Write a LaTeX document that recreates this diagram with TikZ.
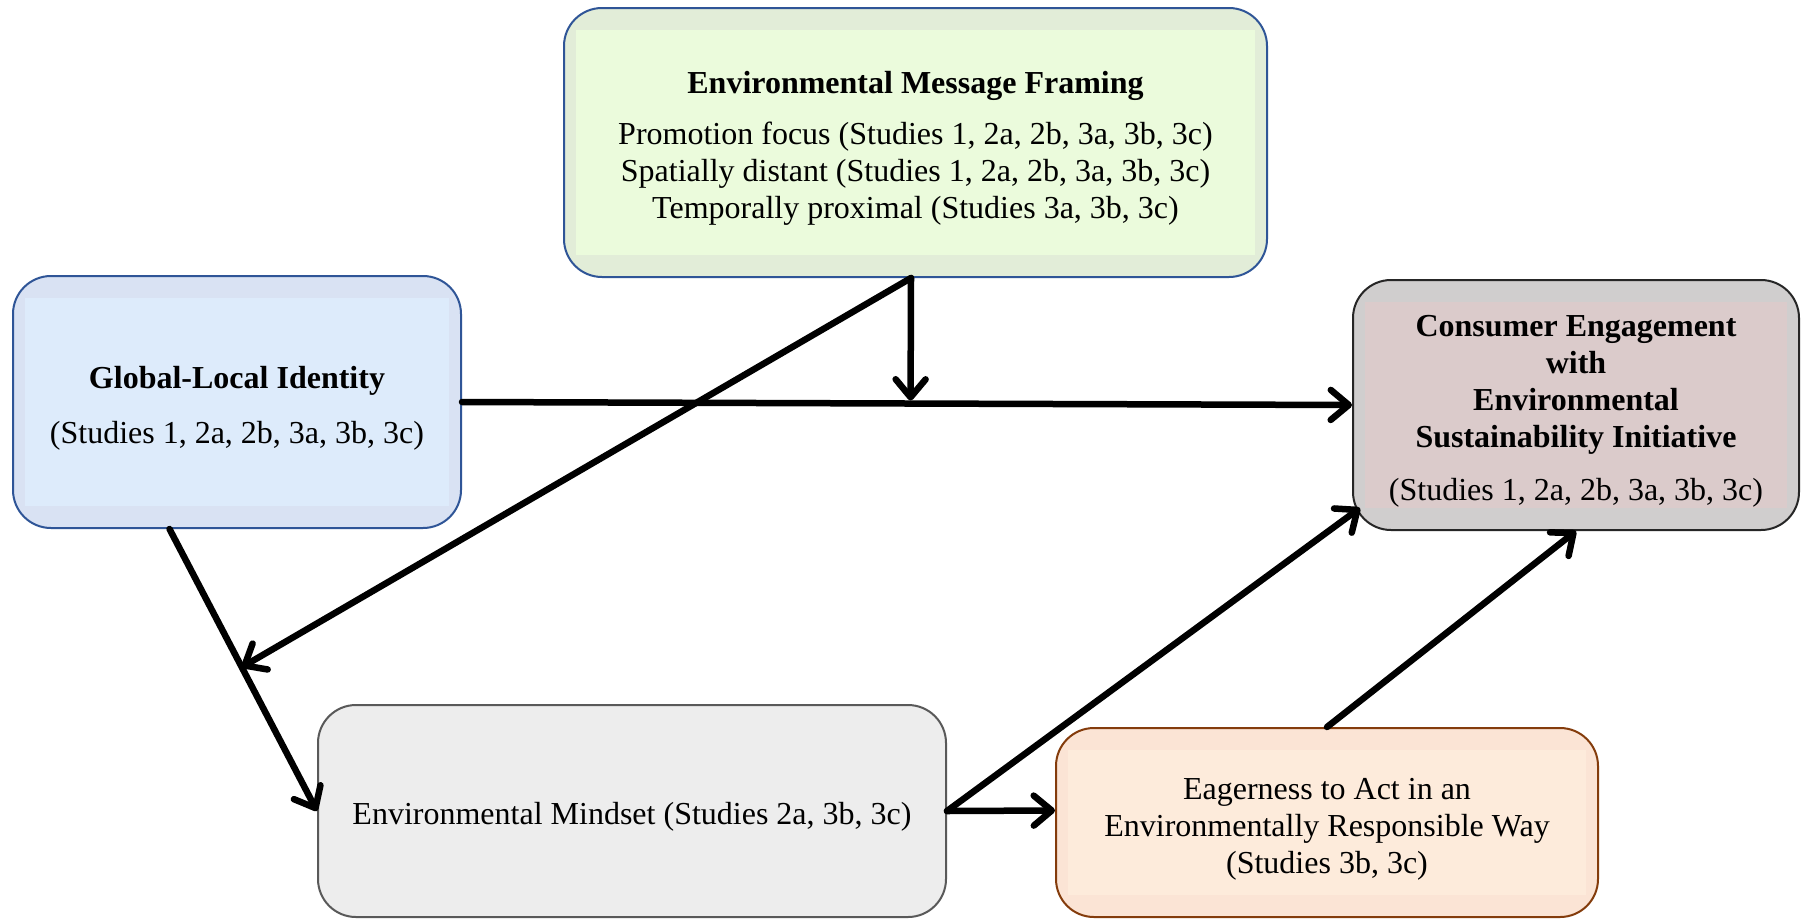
\documentclass[tikz,border=0pt]{standalone}
\usepackage{fontspec}
\setmainfont{Liberation Serif}
\usetikzlibrary{arrows.meta,calc}
\definecolor{emfB}{HTML}{2F5597}
\definecolor{emfO}{HTML}{E2EDD8}
\definecolor{emfI}{HTML}{EBFBDC}
\definecolor{gliB}{HTML}{2F5597}
\definecolor{gliO}{HTML}{D9E2F3}
\definecolor{gliI}{HTML}{DDEBFB}
\definecolor{ceB}{HTML}{262626}
\definecolor{ceO}{HTML}{D0CECE}
\definecolor{ceI}{HTML}{DBCBCB}
\definecolor{emB}{HTML}{595959}
\definecolor{emF}{HTML}{EDEDED}
\definecolor{earB}{HTML}{843C0C}
\definecolor{earO}{HTML}{FBE4D5}
\definecolor{earI}{HTML}{FDEBDB}
\newcommand{\topstrut}{\rule{0pt}{34pt}}
\tikzset{
  panel/.style 2 args={rectangle, rounded corners=38pt, draw=#1, fill=#2, line width=2pt,
    inner sep=0pt, align=center, font=\fontsize{32}{37}\selectfont},
  inset/.style={path picture={\fill[#1, sharp corners] ([xshift=12pt,yshift=-22pt]path picture bounding box.north west)
    rectangle ([xshift=-12pt,yshift=22pt]path picture bounding box.south east);}},
  conn/.style={line width=6.5pt, line cap=round, -{Straight Barb[length=18pt,width=30pt,line cap=round,line join=round]}},
}
\begin{document}
\begin{tikzpicture}[x=1pt,y=-1pt]
\clip (0,0) rectangle (1804,919);
\fill[white] (0,0) rectangle (1804,919);

\node[panel={emfB}{emfO}, inset=emfI, minimum width=703pt, minimum height=269pt] (emf) at (915.5,142.5)
  {\topstrut{\bfseries Environmental Message Framing}\\[14pt]
   Promotion focus (Studies 1, 2a, 2b, 3a, 3b, 3c)\\
   Spatially distant (Studies 1, 2a, 2b, 3a, 3b, 3c)\\
   Temporally proximal (Studies 3a, 3b, 3c)};

\node[panel={gliB}{gliO}, inset=gliI, minimum width=448pt, minimum height=252pt] (gli) at (237,402)
  {\topstrut{\bfseries Global-Local Identity}\\[18pt]
   (Studies 1, 2a, 2b, 3a, 3b, 3c)};

\node[panel={ceB}{ceO}, inset=ceI, minimum width=446pt, minimum height=250pt] (ce) at (1576,405)
  {\topstrut{\bfseries Consumer Engagement}\\
   {\bfseries with}\\
   {\bfseries Environmental}\\
   {\bfseries Sustainability Initiative}\\[16pt]
   (Studies 1, 2a, 2b, 3a, 3b, 3c)};

\node[panel={emB}{emF}, minimum width=628pt, minimum height=212pt] (em) at (632,811)
  {\topstrut Environmental Mindset (Studies 2a, 3b, 3c)};

\node[panel={earB}{earO}, inset=earI, minimum width=542pt, minimum height=189pt] (ear) at (1327,822.5)
  {\topstrut Eagerness to Act in an\\
   Environmentally Responsible Way\\
   (Studies 3b, 3c)};

\coordinate (emfout) at ($(emf.south)+(-4.5,0)$);
\coordinate (mid) at ($(gli.east)!0.504!(ce.west)$);
\coordinate (glout) at ($(gli.south west)!0.35!(gli.south east)$);
\coordinate (gmid) at ($(glout)!0.49!(em.west)$);
\coordinate (cein) at ($(ce.south west)+(8,-23)$);

\draw[conn] (gli.east) -- (ce.west);
\draw[conn] (emfout) -- ($(mid)+(0,-3)$);
\draw[conn] (emfout) -- (gmid);
\draw[conn] (glout) -- (em.west);
\draw[conn] (em.east) -- ($(ear.west)+(0,-12)$);
\draw[conn] (em.east) -- (cein);
\draw[conn] (ear.north) -- (ce.south);
\end{tikzpicture}
\end{document}
